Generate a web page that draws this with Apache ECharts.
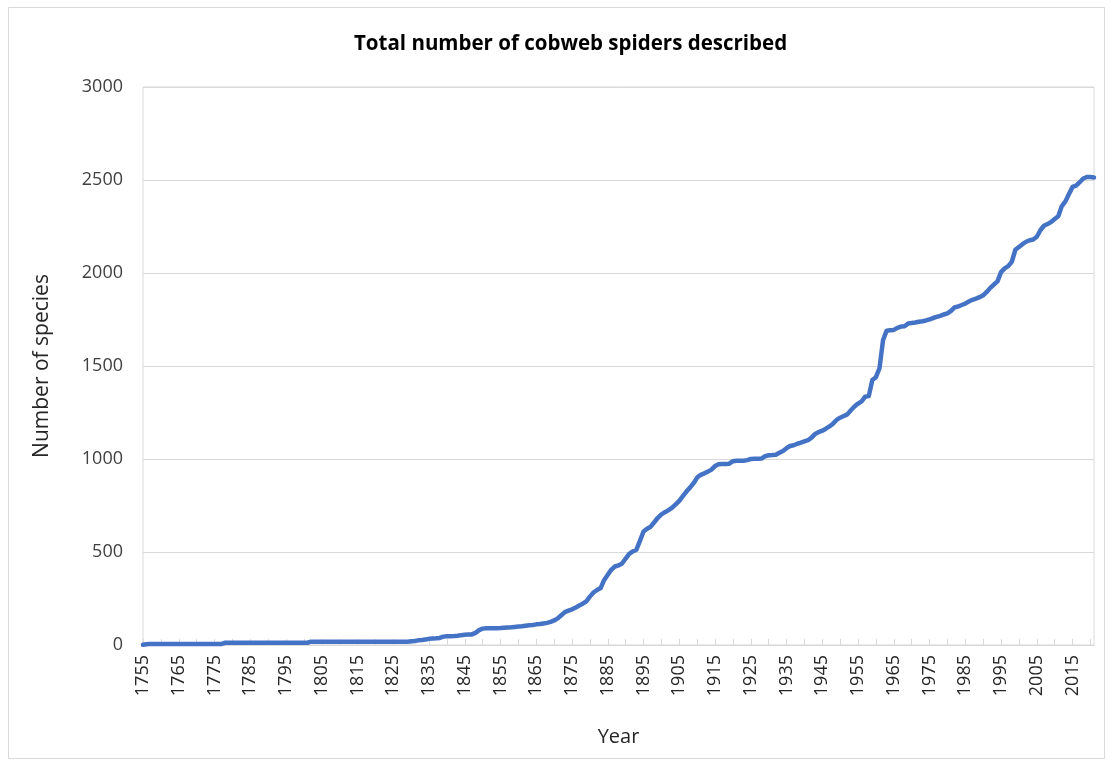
<!DOCTYPE html>
<html>
<head>
<meta charset="utf-8">
<script src="https://cdn.jsdelivr.net/npm/echarts@6/dist/echarts.min.js"></script>
<style>
    html, body { margin: 0; padding: 0; background: #fff; }
    #main { width: 1113px; height: 766px; }
</style>
</head>
<body>
<div id="main"></div>
<script>
// cumulative species counts, one value per year
var counts1755 = [1, 4, 6, 6, 6, 6, 6, 6, 6, 6,
    6, 6, 6, 6, 6, 6, 6, 6, 6, 6,
    6, 6, 6, 12, 12, 12, 12, 12, 12, 12,
    12, 12, 12, 12, 12, 12, 12, 12, 12, 12,
    12, 12, 12, 12, 12, 12, 12, 18, 18, 18,
    18, 18, 18, 18, 18, 18, 18, 18, 18, 18,
    18, 18, 18, 18, 18, 18, 18, 18, 18, 18,
    18, 18, 18, 18, 18, 20, 22, 25, 27, 30];   // 1755-1834
var counts1835 = [33, 35, 36, 38, 45, 47, 47, 48, 50, 53,
    55, 56, 57, 65, 80, 88, 90, 90, 90, 90,
    91, 93, 94, 95, 97, 99, 101, 104, 106, 108,
    111, 113, 116, 119, 124, 132, 143, 160, 177, 185,
    192, 201, 212, 222, 235, 260, 282, 296, 306, 350,
    378, 405, 422, 428, 438, 465, 490, 503, 512, 560];   // 1835-1894
var counts1895 = [610, 625, 636, 660, 684, 702, 714, 725, 738, 756,
    775, 800, 825, 846, 870, 900, 915, 923, 932, 943,
    962, 972, 973, 973, 975, 988, 991, 991, 991, 994,
    1000, 1001, 1001, 1002, 1015, 1020, 1021, 1023, 1033, 1043,
    1058, 1070, 1074, 1082, 1088, 1095, 1101, 1115, 1135, 1145,
    1152, 1163, 1175, 1190, 1210, 1222, 1231, 1240, 1262, 1282];   // 1895-1954
var counts1955 = [1298, 1310, 1335, 1338, 1425, 1440, 1488, 1640, 1690, 1692,
    1694, 1705, 1712, 1714, 1728, 1731, 1734, 1738, 1741, 1745,
    1751, 1758, 1764, 1770, 1777, 1783, 1796, 1815, 1820, 1828,
    1835, 1847, 1856, 1862, 1870, 1880, 1898, 1920, 1938, 1955,
    2005, 2025, 2037, 2060, 2125, 2140, 2155, 2168, 2176, 2180,
    2195, 2230, 2254, 2263, 2274, 2290, 2305, 2360, 2385, 2425,
    2463, 2470, 2488, 2508, 2516, 2516, 2514];   // 1955-2021

var firstYear = 1755;
var speciesData = counts1755.concat(counts1835, counts1895, counts1955);
var years = [];
for (var i = 0; i < speciesData.length; i++) {
    years.push(String(firstYear + i));
}

var yTicks = [0, 500, 1000, 1500, 2000, 2500, 3000];

var chart = echarts.init(document.getElementById('main'));
var option = {
    backgroundColor: '#ffffff',
    animation: false,
    title: {
        text: 'Total number of cobweb spiders described',
        left: 349,
        top: 29,
        textStyle: {
            fontFamily: 'Open Sans',
            fontWeight: 'bold',
            fontSize: 20.5,
            color: '#000000'
        }
    },
    graphic: [{
        type: 'rect',
        shape: { x: 8.5, y: 7.5, width: 1096, height: 751 },
        style: { fill: 'none', stroke: '#d9d9d9', lineWidth: 1 },
        silent: true
    }],
    grid: {
        left: 143,
        right: 19,
        top: 87,
        bottom: 121,
        show: true,
        borderColor: '#d9d9d9',
        borderWidth: 1
    },
    xAxis: {
        type: 'category',
        data: years,
        boundaryGap: false,
        name: 'Year',
        nameLocation: 'middle',
        nameGap: 82,
        nameTextStyle: {
            fontFamily: 'Open Sans',
            fontSize: 20,
            color: '#262626'
        },
        axisLine: { lineStyle: { color: '#d9d9d9', width: 1 } },
        axisTick: {
            show: true,
            inside: true,
            length: 6,
            interval: 4,
            lineStyle: { color: '#d9d9d9' }
        },
        axisLabel: {
            interval: 9,
            rotate: 90,
            margin: 10,
            fontFamily: 'Open Sans',
            fontSize: 18,
            color: '#262626'
        },
        splitLine: { show: false }
    },
    yAxis: {
        type: 'value',
        min: yTicks[0],
        max: yTicks[yTicks.length - 1],
        interval: 500,
        name: 'Number of species',
        nameLocation: 'middle',
        nameGap: 90,
        nameTextStyle: {
            fontFamily: 'Open Sans',
            fontSize: 21,
            color: '#262626'
        },
        axisLine: { show: false },
        axisTick: { show: false },
        axisLabel: {
            margin: 20,
            fontFamily: 'Open Sans',
            fontSize: 18,
            color: '#404040',
            formatter: function (v) {
                return String(v);
            }
        },
        splitLine: { lineStyle: { color: '#d9d9d9', width: 1 } }
    },
    series: [{
        name: 'Species',
        type: 'line',
        data: speciesData,
        showSymbol: false,
        symbol: 'none',
        smooth: false,
        lineStyle: {
            color: '#4472c4',
            width: 4.5,
            cap: 'round',
            join: 'round'
        }
    }]
};
chart.setOption(option);
</script>
</body>
</html>
